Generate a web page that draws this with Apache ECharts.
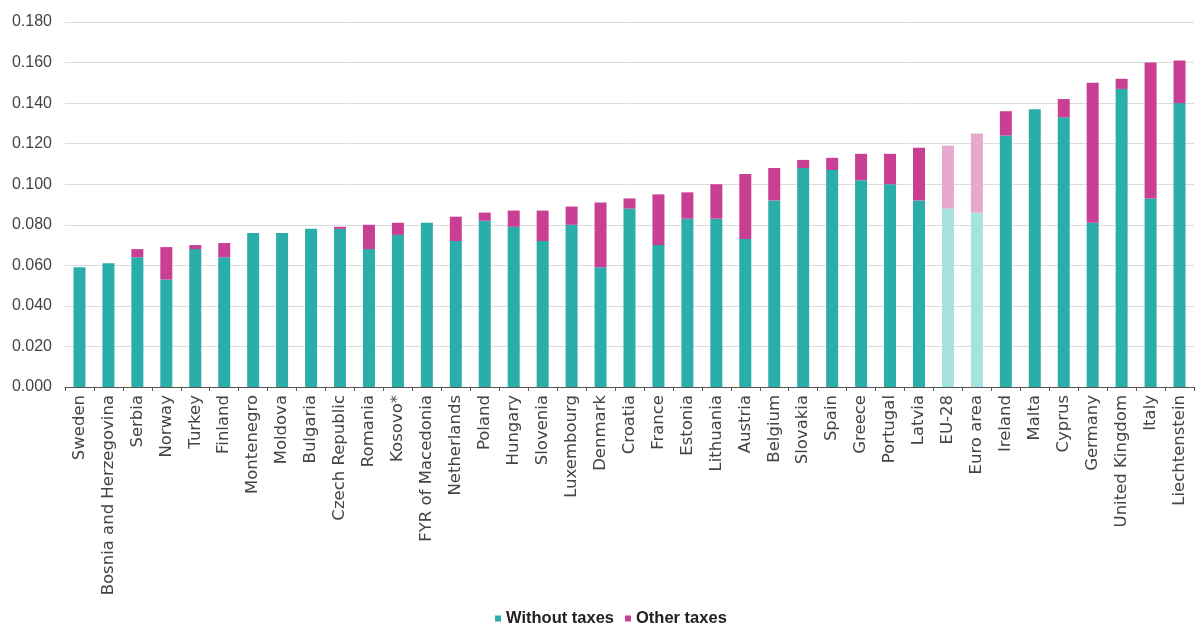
<!DOCTYPE html>
<html>
<head>
<meta charset="utf-8">
<script src="https://cdn.jsdelivr.net/npm/echarts@6/dist/echarts.min.js"></script>
<style>
  html, body { margin: 0; padding: 0; background: #fff; }
  #chart { width: 1200px; height: 630px; }
</style>
</head>
<body>
<div id="chart"></div>
<script>
// Electricity prices per kWh, split into the price without taxes and other taxes
const countries = [
  'Sweden', 'Bosnia and Herzegovina', 'Serbia', 'Norway', 'Turkey', 'Finland',
  'Montenegro', 'Moldova', 'Bulgaria', 'Czech Republic', 'Romania', 'Kosovo*',
  'FYR of Macedonia', 'Netherlands', 'Poland', 'Hungary', 'Slovenia', 'Luxembourg',
  'Denmark', 'Croatia', 'France', 'Estonia', 'Lithuania', 'Austria', 'Belgium',
  'Slovakia', 'Spain', 'Greece', 'Portugal', 'Latvia', 'EU-28', 'Euro area',
  'Ireland', 'Malta', 'Cyprus', 'Germany', 'United Kingdom', 'Italy', 'Liechtenstein'
];
const withoutTaxes = [
  0.059, 0.061, 0.064, 0.053, 0.068, 0.064,
  0.076, 0.076, 0.078, 0.078, 0.068, 0.075,
  0.081, 0.072, 0.082, 0.079, 0.072, 0.080,
  0.059, 0.088, 0.070, 0.083, 0.083, 0.073, 0.092,
  0.108, 0.107, 0.102, 0.100, 0.092, 0.088, 0.086,
  0.124, 0.137, 0.133, 0.081, 0.147, 0.093, 0.140
];
const otherTaxes = [
  0.000, 0.000, 0.004, 0.016, 0.002, 0.007,
  0.000, 0.000, 0.000, 0.001, 0.012, 0.006,
  0.000, 0.012, 0.004, 0.008, 0.015, 0.009,
  0.032, 0.005, 0.025, 0.013, 0.017, 0.032, 0.016,
  0.004, 0.006, 0.013, 0.015, 0.026, 0.031, 0.039,
  0.012, 0.000, 0.009, 0.069, 0.005, 0.067, 0.021
];
// Aggregates are drawn in lighter shades
const aggregates = ['EU-28', 'Euro area'];

const TEAL = '#2badaa', TEAL_LIGHT = '#a6e2e0';
const PINK = '#c93f94', PINK_LIGHT = '#e6a8cf';

function shade(values, light) {
  return values.map((v, i) => aggregates.includes(countries[i])
    ? { value: v, itemStyle: { color: light } }
    : v);
}

const chart = echarts.init(document.getElementById('chart'), null, { renderer: 'canvas' });
chart.setOption({
  animation: false,
  textStyle: { fontFamily: 'Liberation Sans, Arial, sans-serif' },
  grid: { left: 65, right: 6, top: 22, bottom: 243 },
  legend: {
    bottom: -2,
    left: 490,
    icon: 'rect',
    itemWidth: 6,
    itemHeight: 6,
    itemGap: 11,
    textStyle: { fontSize: 16.5, fontWeight: 'bold', color: '#222', fontFamily: 'Liberation Sans, Arial, sans-serif' },
    data: ['Without taxes', 'Other taxes']
  },
  xAxis: {
    type: 'category',
    data: countries,
    axisLine: { lineStyle: { color: '#555' } },
    axisTick: { show: true, length: 4, lineStyle: { color: '#555' } },
    axisLabel: {
      rotate: 90, fontSize: 16.5, color: '#444', margin: 8, interval: 0,
      fontFamily: 'DejaVu Sans, sans-serif'
    }
  },
  yAxis: {
    type: 'value',
    min: 0,
    max: 0.18,
    interval: 0.02,
    axisLine: { show: false },
    axisTick: { show: false },
    splitLine: { lineStyle: { color: '#dcdcdc' } },
    axisLabel: {
      fontSize: 16, color: '#444', margin: 13,
      fontFamily: 'Liberation Sans, Arial, sans-serif',
      formatter: v => v.toFixed(3)
    }
  },
  series: [
    {
      name: 'Without taxes',
      type: 'bar',
      stack: 'price',
      barWidth: 12,
      itemStyle: { color: TEAL },
      data: shade(withoutTaxes, TEAL_LIGHT)
    },
    {
      name: 'Other taxes',
      type: 'bar',
      stack: 'price',
      barWidth: 12,
      itemStyle: { color: PINK },
      data: shade(otherTaxes, PINK_LIGHT)
    }
  ]
});
</script>
</body>
</html>
